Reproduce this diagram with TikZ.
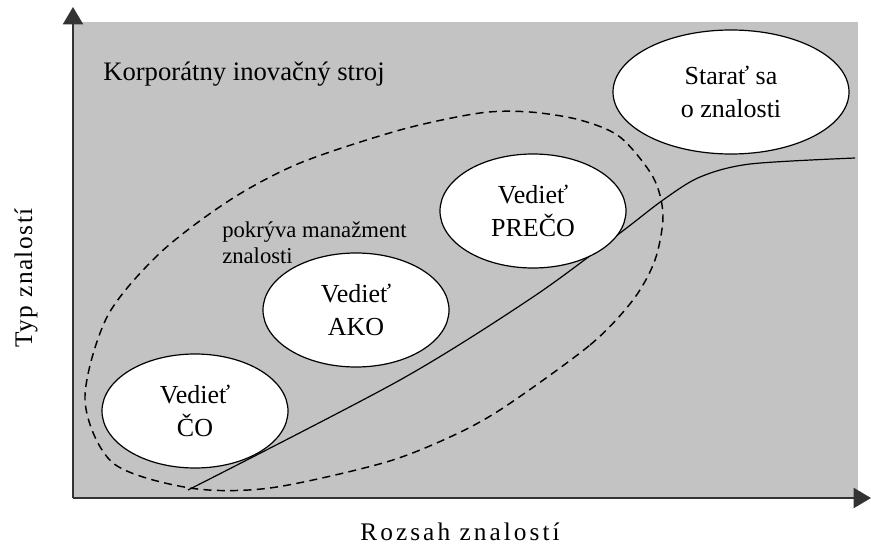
\documentclass[tikz,border=0pt]{standalone}
\usepackage{fontspec}
\setmainfont{Liberation Serif}
\usetikzlibrary{shapes.geometric,arrows.meta}
\definecolor{plocha}{RGB}{195,195,195}
\tikzset{
  oval/.style={draw, ellipse, fill=white, line width=0.9pt, inner sep=0pt,
    minimum width=139.5pt, minimum height=85.5pt, align=center,
    font=\fontsize{19.5}{25}\selectfont},
  os/.style={line width=1.5pt, draw=black!80, -{Triangle[width=15pt,length=13pt]}},
  popis/.style={font=\fontsize{19}{22}\selectfont\addfontfeature{LetterSpace=12}},
}
\begin{document}
\begin{tikzpicture}[x=0.75pt,y=-0.75pt]
  \useasboundingbox (0,0) rectangle (871,546);
  % background area
  \fill[plocha] (73,22) rectangle (858,497);

  % dashed region of knowledge management
  \draw[line width=1.1pt, dash pattern=on 6pt off 4pt] plot[smooth cycle] coordinates {
    (503,408) (590,345) (633,300) (655,260) (663,215) (653,177) (620,137)
    (580,120) (530,112) (480,113) (400,130) (300,163) (230,200) (160,253)
    (107,317) (85,400) (113,463) (190,488) (270,488) (383,463) (450,437)};

  % growth curve
  \draw[line width=0.9pt] plot[smooth] coordinates {
    (188,490) (400,380) (533,297) (620,233) (663,200) (700,177) (750,164) (855,158)};

  % knowledge types
  \node[oval] (co) at (195,411) {Vedieť\\ČO};
  \node[oval] (ako) at (356,310) {Vedieť\\AKO};
  \node[oval] (preco) at (533,211) {Vedieť\\PREČO};
  \node[oval, minimum width=177pt, minimum height=93pt] (starat) at (731,92) {Starať sa\\o znalosti};

  % texts
  \node[anchor=base west, inner sep=0pt, font=\fontsize{20}{24}\selectfont] (stroj) at (103,80) {Korporátny inovačný stroj};
  \node[anchor=base west, inner sep=0pt, align=left, font=\fontsize{17}{19}\selectfont] (km) at (222,263) {pokrýva manažment\\znalosti};

  % axes
  \coordinate (O) at (73,498);
  \coordinate (ytop) at (73,7);
  \coordinate (xend) at (871,498);
  \draw[os] (O) -- (ytop);
  \draw[os] (O) -- (xend);
  \node[popis, rotate=90, anchor=base, inner sep=0pt, font=\fontsize{19}{22}\selectfont\addfontfeature{LetterSpace=6}] (typ) at (32,278) {Typ znalostí};
  \node[popis, anchor=base, inner sep=0pt] (rozsah) at (460,540) {Rozsah znalostí};
\end{tikzpicture}
\end{document}
